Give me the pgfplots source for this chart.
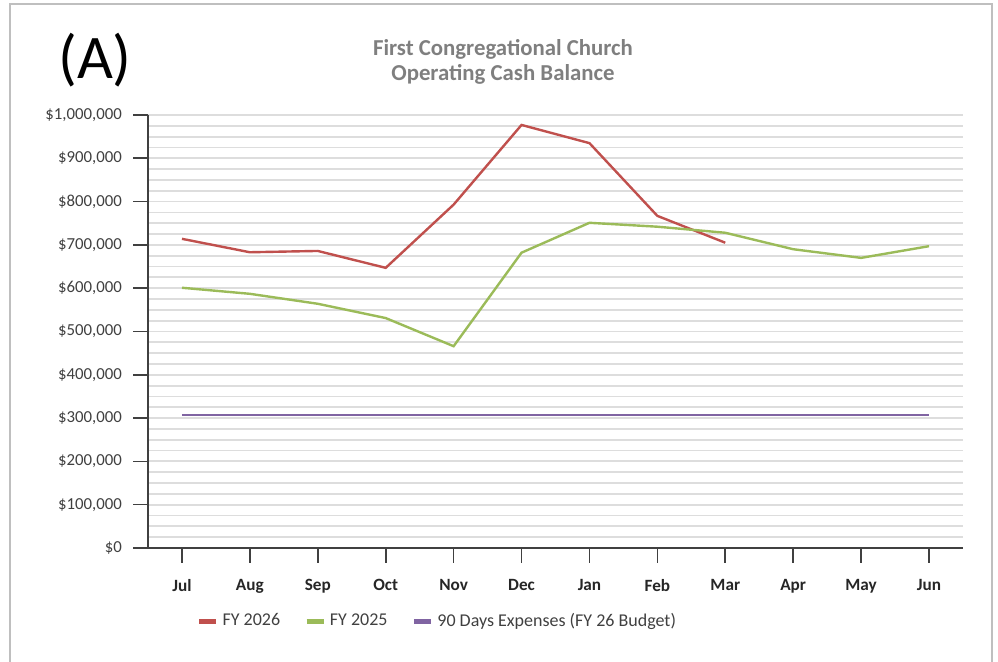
\documentclass[border=0pt]{standalone}
\usepackage{fontspec}
\setmainfont{Carlito}
\usepackage{pgfplots}
\pgfplotsset{compat=1.18}
\definecolor{c26}{HTML}{C0504D}
\definecolor{c25}{HTML}{9BBB59}
\definecolor{cexp}{HTML}{8064A2}
\definecolor{gridc}{HTML}{DDDDDD}
\definecolor{axc}{HTML}{404040}
\definecolor{titc}{HTML}{7F7F7F}
\definecolor{borderc}{HTML}{BFBFBF}
\begin{document}
\begin{tikzpicture}
\path[use as bounding box] (0,0) rectangle (499pt,331pt);
\draw[borderc, line width=1pt] (5pt,-2pt) -- (5pt,329pt) -- (496pt,329pt) -- (496pt,-2pt);
\node[font=\fontsize{31}{34}\selectfont] at (47.5pt,301pt) {(A)};
\node[font=\bfseries\fontsize{11.4}{12.5}\selectfont, text=titc, align=center] at (251.5pt,300pt) {First Congregational Church\\Operating Cash Balance};
\begin{axis}[
  at={(74pt,57pt)}, anchor=south west,
  scale only axis, width=407.5pt, height=216.5pt,
  xmin=-0.5, xmax=11.5, ymin=0, ymax=1000000,
  axis x line=bottom, axis y line=left,
  axis line style={-, axc, line width=0.8pt},
  tick align=outside, major tick length=7.5pt, minor tick length=0pt,
  tick style={axc, line width=0.8pt},
  xtick={0,...,11},
  xticklabels={Jul,Aug,Sep,Oct,Nov,Dec,Jan,Feb,Mar,Apr,May,Jun},
  xticklabel style={font=\bfseries\fontsize{8.6}{10}\selectfont, text=black!85, yshift=-4.5pt},
  ytick={0,100000,...,1000000},
  yticklabels={\$0,{\$100,000},{\$200,000},{\$300,000},{\$400,000},{\$500,000},{\$600,000},{\$700,000},{\$800,000},{\$900,000},{\$1,000,000}},
  yticklabel style={font=\fontsize{8.4}{10}\selectfont, text=axc, xshift=-2pt},
  scaled y ticks=false,
  minor y tick num=3,
  ymajorgrids, yminorgrids,
  major grid style={gridc, line width=0.9pt},
  minor grid style={gridc, line width=0.9pt},
  legend columns=3,
  legend style={at={(0.052,-0.169)}, anchor=west, draw=none, fill=none,
    font=\fontsize{9}{10.8}\selectfont, text=axc,
    /tikz/every even column/.append style={column sep=10pt}},
  legend image code/.code={\draw[#1, line width=2.4pt] (0pt,0pt) -- (8.5pt,0pt);},
]
\addplot[c26, line width=1.2pt] coordinates {
(0,714000) (1,683000) (2,686000) (3,647000) (4,793000) (5,977000) (6,935000) (7,767000) (8,705000)};
\addlegendentry{FY 2026}
\addplot[c25, line width=1.2pt] coordinates {
(0,601000) (1,587000) (2,564000) (3,531000) (4,466000) (5,682000) (6,751000) (7,742000) (8,728000) (9,690000) (10,670000) (11,697000)};
\addlegendentry{FY 2025}
\addplot[cexp, line width=1.2pt] coordinates {
(0,307000) (1,307000) (2,307000) (3,307000) (4,307000) (5,307000) (6,307000) (7,307000) (8,307000) (9,307000) (10,307000) (11,307000)};
\addlegendentry{90 Days Expenses (FY 26 Budget)}
\end{axis}
\end{tikzpicture}
\end{document}
